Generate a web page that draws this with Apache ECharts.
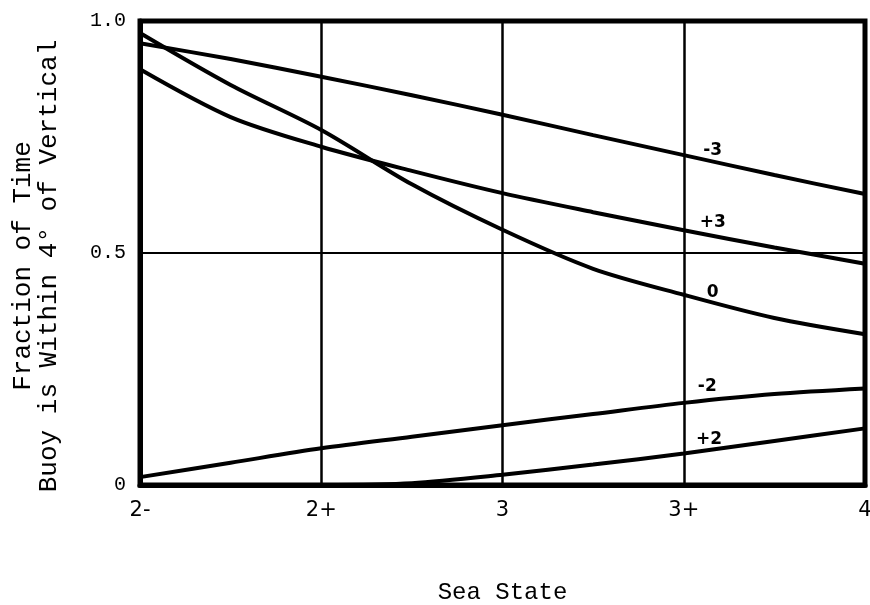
<!DOCTYPE html>
<html>
<head>
<meta charset="utf-8">
<script src="https://cdn.jsdelivr.net/npm/echarts@6/dist/echarts.min.js"></script>
<style>
  html, body { margin: 0; padding: 0; background: #fff; }
  #chart { width: 870px; height: 605px; }
</style>
</head>
<body>
<div id="chart"></div>
<script>
// sea state ticks (x positions 0..4)
const seaStates = ['2-', '2+', '3', '3+', '4'];
const xs = [0, 0.5, 1, 1.5, 2, 2.5, 3, 3.5, 4];

// fraction of time values, one array per curve
const curveM3 = [0.952, 0.918, 0.880, 0.840, 0.798, 0.754, 0.711, 0.668, 0.627];
const curveP3 = [0.896, 0.793, 0.729, 0.677, 0.629, 0.588, 0.549, 0.512, 0.477];
const curve0  = [0.974, 0.862, 0.765, 0.648, 0.550, 0.466, 0.410, 0.360, 0.325];
const curveM2 = [0.017, 0.048, 0.079, 0.104, 0.129, 0.153, 0.177, 0.196, 0.208];
const curveP2 = [null, null, 0, 0.004, 0.022, 0.044, 0.068, 0.095, 0.122];

const curveNames = ['-3', '+3', '0', '-2', '+2'];
const curveData = [curveM3, curveP3, curve0, curveM2, curveP2];
// where each curve's hand-written label sits (data coords)
const labelX = [3.16, 3.16, 3.16, 3.13, 3.14];
const labelY = [0.72, 0.566, 0.415, 0.212, 0.098];

const yTicks = { 0: '0', 0.5: '0.5', 1: '1.0' };
const yTitle = ['Fraction of Time', 'Buoy is Within 4\u00b0 of Vertical'];

const chart = echarts.init(document.getElementById('chart'));

const series = curveData.map((vals, i) => ({
  name: curveNames[i],
  type: 'line',
  smooth: 0.3,
  symbol: 'none',
  lineStyle: { color: '#000', width: 4 },
  data: vals.map((v, j) => [xs[j], v]),
  markPoint: {
    symbol: 'circle',
    symbolSize: 1,
    itemStyle: { color: 'rgba(0,0,0,0)' },
    label: {
      show: true,
      position: 'inside',
      formatter: curveNames[i],
      color: '#000',
      fontFamily: 'DejaVu Sans',
      fontWeight: 'bold',
      fontSize: 17
    },
    data: [{ coord: [labelX[i], labelY[i]] }]
  }
}));

const option = {
  animation: false,
  backgroundColor: '#fff',
  grid: {
    left: 140, right: 5, top: 21, bottom: 120,
    outerBoundsMode: 'none',
    show: true, borderColor: '#000', borderWidth: 5
  },
  // two-line rotated y title
  graphic: yTitle.map((t, i) => ({
    type: 'text',
    x: i === 0 ? 23 : 49,
    y: 266,
    rotation: Math.PI / 2,
    style: {
      text: t,
      fill: '#000',
      font: '26px "Liberation Mono"',
      align: 'center',
      verticalAlign: 'middle'
    }
  })),
  xAxis: {
    type: 'value',
    min: 0, max: 4, interval: 1,
    name: 'Sea State',
    nameLocation: 'middle',
    nameGap: 96,
    nameTextStyle: { color: '#000', fontFamily: 'Liberation Mono', fontSize: 24 },
    axisLine: { lineStyle: { color: '#000', width: 5 } },
    axisTick: { show: false },
    splitLine: { lineStyle: { color: '#000', width: 2.5 } },
    axisLabel: {
      color: '#000', fontFamily: 'DejaVu Sans', fontSize: 21, margin: 15,
      formatter: v => seaStates[v]
    }
  },
  yAxis: {
    type: 'value',
    min: 0, max: 1, interval: 0.5,
    axisLine: { show: true, lineStyle: { color: '#000', width: 5 } },
    axisTick: { show: false },
    splitLine: { lineStyle: { color: '#000', width: 2 } },
    axisLabel: {
      color: '#000', fontFamily: 'Liberation Mono', fontSize: 20, margin: 14,
      formatter: v => yTicks[v]
    }
  },
  series: series
};

chart.setOption(option);
</script>
</body>
</html>
